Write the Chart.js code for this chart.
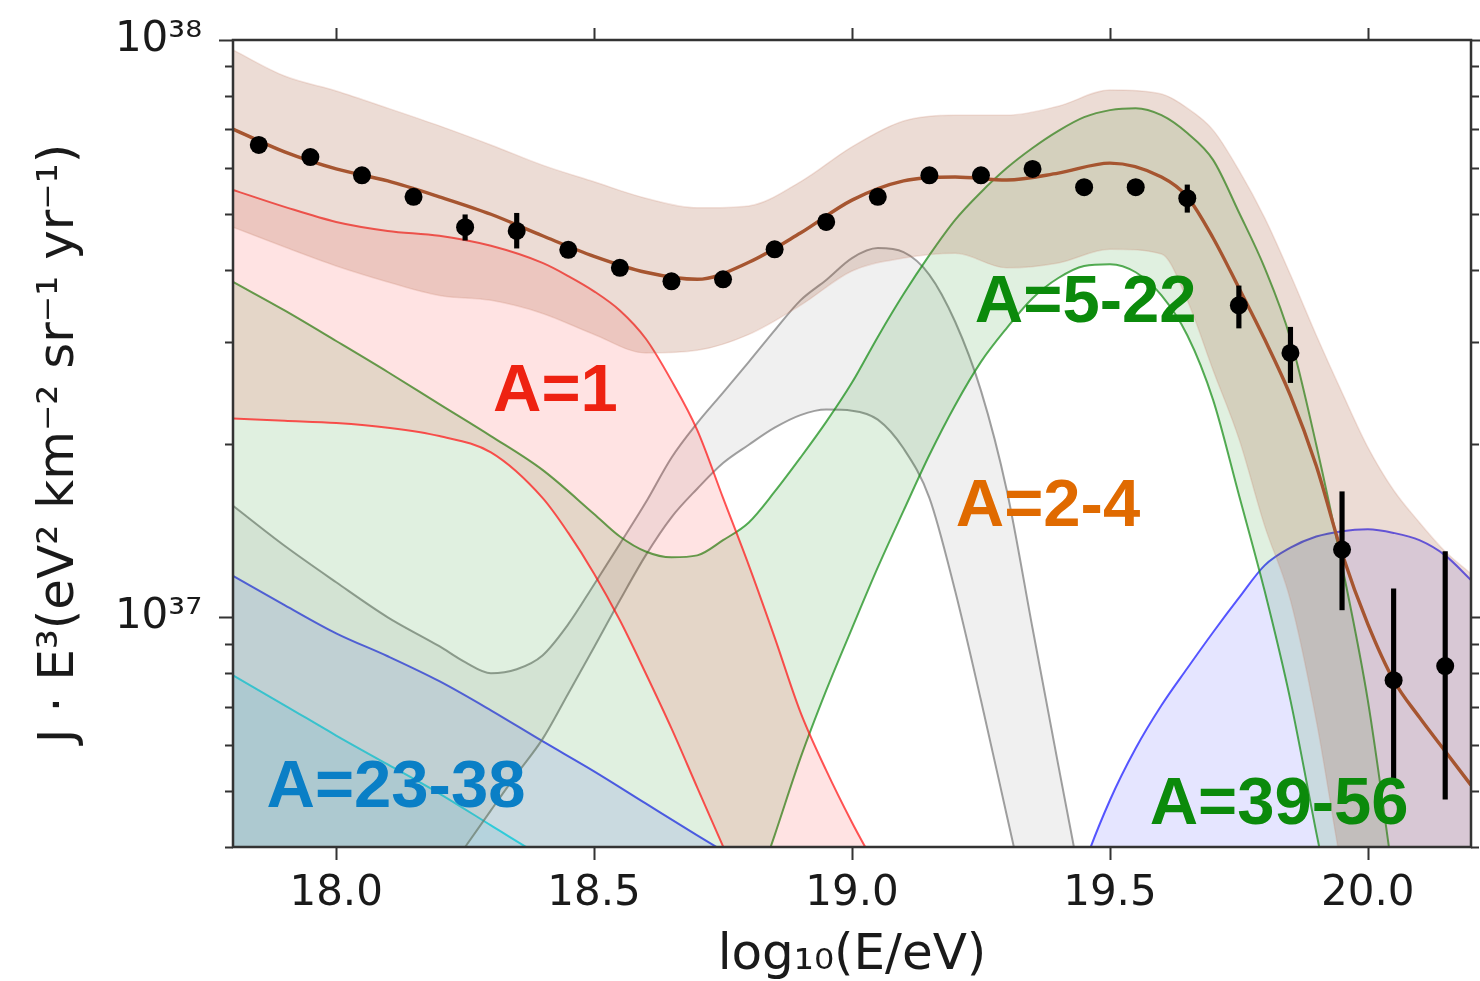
<!DOCTYPE html>
<html>
<head>
<meta charset="utf-8">
<script src="https://cdn.jsdelivr.net/npm/chart.js@4.4.1/dist/chart.umd.min.js"></script>
<style>
  html, body { margin: 0; padding: 0; background: #ffffff; }
  canvas { display: block; }
</style>
</head>
<body>
<canvas id="spectrum" width="1480" height="981"></canvas>
<script>
// ---- Measured flux: bin centres in log10(E/eV), J·E³ and its 1σ range ----
const logE = [17.85, 17.95, 18.05, 18.15, 18.25, 18.35, 18.45, 18.55, 18.65, 18.75, 18.85, 18.95,
              19.05, 19.15, 19.25, 19.35, 19.45, 19.55, 19.65, 19.75, 19.85, 19.95, 20.05, 20.15];
const flux = [6.58e37, 6.27e37, 5.83e37, 5.35e37, 4.74e37, 4.67e37, 4.33e37, 4.03e37, 3.82e37, 3.85e37, 4.34e37, 4.84e37,
              5.35e37, 5.83e37, 5.83e37, 5.98e37, 5.56e37, 5.56e37, 5.32e37, 3.47e37, 2.87e37, 1.31e37, 7.78e36, 8.23e36];
const fluxLow = [6.40e37, 6.10e37, 5.67e37, 5.20e37, 4.50e37, 4.36e37, 4.20e37, 3.91e37, 3.70e37, 3.73e37, 4.21e37, 4.69e37,
                 5.19e37, 5.65e37, 5.65e37, 5.80e37, 5.39e37, 5.39e37, 5.03e37, 3.17e37, 2.55e37, 1.03e37, 5.26e36, 4.84e36];
const fluxHigh = [6.75e37, 6.45e37, 6.00e37, 5.50e37, 4.98e37, 5.01e37, 4.46e37, 4.15e37, 3.94e37, 3.97e37, 4.47e37, 4.99e37,
                  5.51e37, 6.00e37, 6.00e37, 6.16e37, 5.73e37, 5.73e37, 5.61e37, 3.75e37, 3.18e37, 1.65e37, 1.12e37, 1.30e37];

// ---- Total model: best fit and its uncertainty band ----
const gridTotal = [17.8, 17.9, 18.0, 18.1, 18.2, 18.3, 18.4, 18.5, 18.6, 18.7, 18.8, 18.9, 19.0, 19.1, 19.2, 19.3,
                   19.4, 19.5, 19.6, 19.65, 19.7, 19.75, 19.8, 19.85, 19.9, 19.95, 20.0, 20.05, 20.1, 20.15, 20.2];
const totalFit = [7.01e37, 6.40e37, 5.98e37, 5.70e37, 5.35e37, 4.99e37, 4.58e37, 4.22e37, 3.96e37, 3.85e37, 4.12e37,
                  4.63e37, 5.28e37, 5.70e37, 5.79e37, 5.72e37, 5.88e37, 6.12e37, 5.79e37, 5.35e37, 4.54e37, 3.72e37,
                  3.03e37, 2.42e37, 1.83e37, 1.29e37, 9.73e36, 7.78e36, 6.71e36, 5.86e36, 5.12e36];
const totalHigh = [9.61e37, 8.66e37, 8.16e37, 7.62e37, 7.10e37, 6.58e37, 6.07e37, 5.68e37, 5.32e37, 5.12e37, 5.16e37,
                   5.68e37, 6.53e37, 7.24e37, 7.41e37, 7.41e37, 7.68e37, 8.19e37, 8.06e37, 7.62e37, 6.98e37, 5.95e37,
                   4.92e37, 3.92e37, 3.08e37, 2.45e37, 1.97e37, 1.66e37, 1.46e37, 1.30e37, 1.19e37];
const totalLow = [4.74e37, 4.38e37, 4.06e37, 3.81e37, 3.61e37, 3.54e37, 3.36e37, 3.09e37, 2.87e37, 2.90e37, 3.09e37,
                  3.47e37, 3.98e37, 4.19e37, 4.27e37, 4.03e37, 4.11e37, 4.34e37, 4.26e37, 3.54e37, 2.68e37, 2.04e37,
                  1.44e37, 1.07e37, 6.63e36, 3.64e36, 2.17e36, 1.5e36, 1.0e36, 7e35, 5e35];

// ---- Mass groups: upper / lower edges of each band ----
const gridProton = [17.8, 17.9, 18.0, 18.1, 18.2, 18.3, 18.4, 18.45, 18.5, 18.55, 18.6, 18.65, 18.7, 18.75, 18.8,
                    18.85, 18.9, 18.95, 19.0, 19.05, 19.1];
const protonHigh = [5.50e37, 5.14e37, 4.84e37, 4.67e37, 4.58e37, 4.40e37, 4.11e37, 3.90e37, 3.67e37, 3.40e37, 3.04e37,
                    2.57e37, 2.11e37, 1.61e37, 1.23e37, 9.23e36, 6.85e36, 5.43e36, 4.41e36, 3.64e36, 2.93e36];
const protonLow = [2.21e37, 2.19e37, 2.17e37, 2.13e37, 2.06e37, 1.93e37, 1.61e37, 1.40e37, 1.19e37, 9.88e36, 8.00e36,
                   6.42e36, 5.07e36, 4.01e36, 3.17e36, 2.54e36, 2.04e36, 1.64e36, 1.32e36, 1.06e36, 8.5e35];

const gridHelium = [17.8, 17.9, 18.0, 18.1, 18.2, 18.25, 18.3, 18.35, 18.4, 18.45, 18.5, 18.55, 18.6, 18.65, 18.7,
                    18.75, 18.8, 18.85, 18.9, 18.95, 19.0, 19.05, 19.1, 19.15, 19.2, 19.25, 19.3, 19.35, 19.4, 19.45, 19.5];
const heliumHigh = [1.56e37, 1.33e37, 1.15e37, 1.00e37, 8.91e36, 8.36e36, 8.00e36, 8.13e36, 8.59e36, 9.73e36, 1.14e37,
                    1.34e37, 1.58e37, 1.89e37, 2.17e37, 2.45e37, 2.77e37, 3.14e37, 3.54e37, 3.84e37, 4.19e37, 4.36e37,
                    4.29e37, 3.92e37, 3.25e37, 2.47e37, 1.66e37, 9.57e36, 5.54e36, 3.23e36, 1.85e36];
const heliumLow = [9.8e35, 1.34e36, 1.85e36, 2.54e36, 3.45e36, 4.00e36, 4.63e36, 5.35e36, 6.15e36, 7.38e36, 8.87e36,
                   1.07e37, 1.28e37, 1.49e37, 1.67e37, 1.85e37, 1.99e37, 2.13e37, 2.24e37, 2.29e37, 2.28e37, 2.20e37,
                   1.96e37, 1.61e37, 1.11e37, 7.18e36, 4.54e36, 2.87e36, 1.81e36, 1.27e36, 9e35];

const gridCno = [17.8, 17.9, 18.0, 18.1, 18.2, 18.3, 18.4, 18.5, 18.55, 18.6, 18.65, 18.7, 18.75, 18.8, 18.85, 18.9,
                 18.95, 19.0, 19.05, 19.1, 19.15, 19.2, 19.25, 19.3, 19.35, 19.4, 19.45, 19.5, 19.55, 19.6, 19.65,
                 19.7, 19.75, 19.8, 19.85, 19.9, 19.95, 20.0, 20.05, 20.1];
const cnoHigh = [3.81e37, 3.40e37, 3.01e37, 2.66e37, 2.34e37, 2.06e37, 1.80e37, 1.51e37, 1.38e37, 1.30e37, 1.27e37,
                 1.28e37, 1.36e37, 1.46e37, 1.65e37, 1.89e37, 2.18e37, 2.55e37, 3.06e37, 3.63e37, 4.24e37, 4.88e37,
                 5.45e37, 6.00e37, 6.50e37, 6.96e37, 7.35e37, 7.56e37, 7.62e37, 7.41e37, 6.90e37, 6.20e37, 5.03e37,
                 4.03e37, 3.04e37, 1.99e37, 1.23e37, 7.18e36, 3.50e36, 1.71e36];
const cnoLow = [2.5e34, 4e34, 6e34, 1e35, 1.6e35, 2.5e35, 4e35, 6e35, 8e35, 1.0e36, 1.3e36, 1.7e36, 2.3e36, 3.1e36,
                4.19e36, 5.70e36, 7.47e36, 9.57e36, 1.22e37, 1.53e37, 1.91e37, 2.33e37, 2.77e37, 3.17e37, 3.57e37,
                3.87e37, 4.06e37, 4.09e37, 3.96e37, 3.61e37, 3.08e37, 2.38e37, 1.63e37, 1.11e37, 7.18e36, 4.24e36,
                2.54e36, 1.46e36, 1.0e36, 6.5e35];

// Heavy groups (only their upper edges reach into the plotted range)
const gridHeavyLowE = [17.8, 17.9, 18.0, 18.1, 18.2, 18.3, 18.4, 18.5, 18.6, 18.7, 18.8, 18.9, 19.0];
const heavyLowE = [1.18e37, 1.05e37, 9.38e36, 8.56e36, 7.75e36, 6.90e36, 6.10e36, 5.41e36, 4.76e36, 4.19e36,
                   3.70e36, 3.26e36, 2.9e36];
const gridSiGroup = [17.8, 17.9, 18.0, 18.1, 18.2, 18.3, 18.4, 18.5, 18.6];
const siGroup = [7.93e36, 7.04e36, 6.24e36, 5.56e36, 4.95e36, 4.36e36, 3.84e36, 3.36e36, 3.0e36];
const gridFeGroup = [19.4, 19.45, 19.5, 19.55, 19.6, 19.65, 19.7, 19.75, 19.8, 19.85, 19.9, 19.95, 20.0, 20.05,
                     20.1, 20.15, 20.2];
const feGroup = [2.65e36, 3.72e36, 4.82e36, 5.93e36, 7.04e36, 8.16e36, 9.42e36, 1.08e37, 1.23e37, 1.32e37, 1.38e37,
                 1.41e37, 1.42e37, 1.40e37, 1.36e37, 1.28e37, 1.16e37];

// ---- Axis ticks ----
const xTicks = [18.0, 18.5, 19.0, 19.5, 20.0];
const xTickLabels = ['18.0', '18.5', '19.0', '19.5', '20.0'];
const yMajorTicks = [1e37, 1e38];
const yTickLabels = ['10³⁷', '10³⁸'];
const yMinorTicks = [4e36, 5e36, 6e36, 7e36, 8e36, 9e36, 2e37, 3e37, 4e37, 5e37, 6e37, 7e37, 8e37, 9e37];

// Group names written inside the plot
const groupLabels = [
  { text: 'A=1',     x: 18.425, y: 2.45e37, color: '#ee2211' },
  { text: 'A=5-22',  x: 19.453, y: 3.49e37, color: '#0b8a0b' },
  { text: 'A=2-4',   x: 19.380, y: 1.55e37, color: '#e06a00' },
  { text: 'A=23-38', x: 18.116, y: 5.05e36, color: '#0a7fc6' },
  { text: 'A=39-56', x: 19.828, y: 4.72e36, color: '#0b8a0b' }
];

// ---- Dataset construction ----
const pts = (xs, ys) => xs.map((x, i) => ({ x: x, y: ys[i] }));
const datasets = [];

function addLine(xs, ys, style) {
  datasets.push(Object.assign({
    type: 'line', data: pts(xs, ys), pointRadius: 0, borderWidth: 2,
    cubicInterpolationMode: 'monotone', fill: false, order: 3
  }, style));
  return datasets.length - 1;
}
function addBand(xs, hi, lo, lineColor, fillColor, width) {
  const lowIndex = addLine(xs, lo, { borderColor: lineColor, borderWidth: width || 2 });
  addLine(xs, hi, { borderColor: lineColor, borderWidth: width || 2, fill: { target: lowIndex }, backgroundColor: fillColor });
}

// data points and their error bars on top
datasets.push({
  type: 'line', data: pts(logE, flux), showLine: false, pointRadius: 9, pointHoverRadius: 9,
  pointBackgroundColor: '#000000', pointBorderWidth: 0, order: 0
});
datasets.push({
  type: 'bar', data: logE.map((x, i) => ({ x: x, y: [fluxLow[i], fluxHigh[i]] })),
  backgroundColor: '#000000', barThickness: 4.5, grouped: false, order: 1
});
// best-fit total
addLine(gridTotal, totalFit, { borderColor: '#a65530', borderWidth: 3.4, order: 2 });
// total band
addBand(gridTotal, totalHigh, totalLow, 'rgba(200,130,110,0.22)', 'rgba(160,82,45,0.2)', 1.5);
// mass groups
addBand(gridProton, protonHigh, protonLow, 'rgba(255,20,20,0.72)', 'rgba(255,0,0,0.11)');
addBand(gridCno, cnoHigh, cnoLow, 'rgba(20,140,20,0.72)', 'rgba(0,128,0,0.12)');
addBand(gridHelium, heliumHigh, heliumLow, 'rgba(120,120,120,0.7)', 'rgba(128,128,128,0.12)');
addLine(gridHeavyLowE, heavyLowE, { borderColor: 'rgba(40,40,255,0.78)', fill: 'start', backgroundColor: 'rgba(0,0,255,0.1)' });
addLine(gridSiGroup, siGroup, { borderColor: 'rgba(40,235,245,0.9)', fill: 'start', backgroundColor: 'rgba(0,200,230,0.1)' });
addLine(gridFeGroup, feGroup, { borderColor: 'rgba(40,40,255,0.78)', fill: 'start', backgroundColor: 'rgba(0,0,255,0.1)' });

// ---- Plugins: group labels, frame and tick marks ----
const groupLabelPlugin = {
  id: 'groupLabels',
  afterDatasetsDraw(chart) {
    const { ctx, scales } = chart;
    ctx.save();
    ctx.font = 'bold 67px "Liberation Sans", Arial, sans-serif';
    ctx.textAlign = 'center';
    ctx.textBaseline = 'middle';
    groupLabels.forEach(l => {
      ctx.fillStyle = l.color;
      ctx.fillText(l.text, scales.x.getPixelForValue(l.x), scales.y.getPixelForValue(l.y));
    });
    ctx.restore();
  }
};

const framePlugin = {
  id: 'frame',
  afterDraw(chart) {
    const { ctx, chartArea: a, scales } = chart;
    ctx.save();
    ctx.strokeStyle = '#333333';
    ctx.lineWidth = 2;
    ctx.beginPath();
    const yTick = (v, len) => {
      const py = Math.round(scales.y.getPixelForValue(v)) + 0.5;
      ctx.moveTo(a.left, py); ctx.lineTo(a.left - len, py);
      ctx.moveTo(a.right, py); ctx.lineTo(a.right + len, py);
    };
    yMinorTicks.forEach(v => yTick(v, 8));
    yMajorTicks.forEach(v => yTick(v, 14));
    xTicks.forEach(v => {
      const px = Math.round(scales.x.getPixelForValue(v)) + 0.5;
      ctx.moveTo(px, a.bottom); ctx.lineTo(px, a.bottom + 13);
      ctx.moveTo(px, a.top); ctx.lineTo(px, a.top - 12);
    });
    ctx.stroke();
    ctx.lineWidth = 2.5;
    ctx.strokeRect(a.left, a.top, a.right - a.left, a.bottom - a.top);
    ctx.restore();
  }
};

Chart.defaults.font.family = '"DejaVu Sans", sans-serif';
Chart.defaults.color = '#1a1a1a';

new Chart(document.getElementById('spectrum'), {
  type: 'line',
  data: { datasets: datasets },
  options: {
    responsive: false,
    animation: false,
    devicePixelRatio: 1,
    events: [],
    layout: { padding: { left: 0, right: 4, top: 40, bottom: 0 } },
    plugins: { legend: { display: false }, tooltip: { enabled: false } },
    scales: {
      x: {
        type: 'linear', min: 17.8, max: 20.2, offset: false,
        grid: { display: false, drawTicks: false },
        border: { display: false },
        afterBuildTicks: s => { s.ticks = xTicks.map(v => ({ value: v })); },
        afterFit: s => { s.height = 134; s.paddingLeft = 0; s.paddingRight = 0; },
        ticks: {
          autoSkip: false, maxRotation: 0, padding: 22,
          font: { size: 42 }, color: '#1a1a1a',
          callback: (v, i) => xTickLabels[i]
        },
        title: {
          display: true, text: 'log₁₀(E/eV)', color: '#1a1a1a',
          font: { size: 50, lineHeight: 1 }, padding: { top: 1, bottom: 0 }
        }
      },
      y: {
        type: 'logarithmic', min: 4e36, max: 1e38,
        grid: { display: false, drawTicks: false },
        border: { display: false },
        afterBuildTicks: s => { s.ticks = yMajorTicks.map(v => ({ value: v })); },
        afterFit: s => { s.width = 233; s.paddingTop = 0; s.paddingBottom = 0; },
        ticks: {
          autoSkip: false, padding: 31,
          font: { size: 42 }, color: '#1a1a1a',
          callback: (v, i) => yTickLabels[i]
        },
        title: {
          display: true, text: 'J · E³(eV² km⁻² sr⁻¹ yr⁻¹)', color: '#1a1a1a',
          font: { size: 50, lineHeight: 1 }, padding: { top: 35, bottom: 0 }
        }
      }
    }
  },
  plugins: [groupLabelPlugin, framePlugin]
});
</script>
</body>
</html>
